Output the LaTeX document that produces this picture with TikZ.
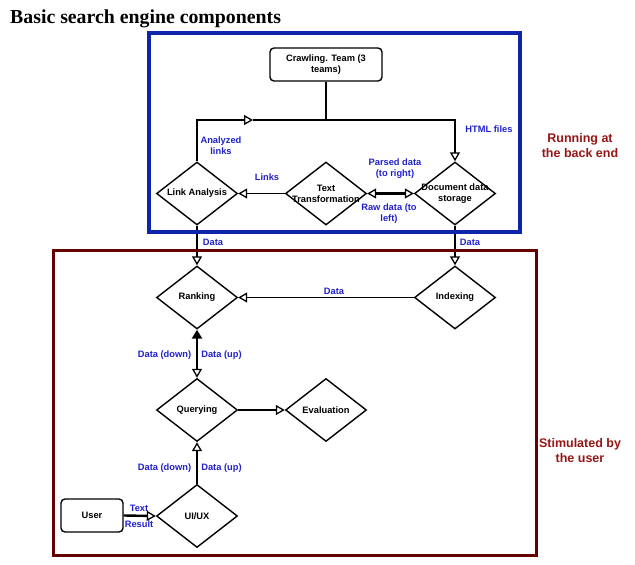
\documentclass[tikz,border=0pt]{standalone}
\usepackage{fontspec}
\setmainfont{Liberation Serif}
\newfontfamily\lsans{Liberation Sans}
\usetikzlibrary{shapes.geometric,arrows.meta}

\definecolor{frameblue}{RGB}{14,36,170}
\definecolor{framered}{RGB}{100,0,0}
\definecolor{lblblue}{RGB}{32,32,205}
\definecolor{notered}{RGB}{150,22,22}

\tikzset{
  dia/.style={diamond, draw, line width=1.4pt, minimum width=81pt, minimum height=63pt, inner sep=0pt},
  dtext/.style={font=\lsans\bfseries\fontsize{9.3}{11}\selectfont, align=center},
  rbox/.style={draw, line width=1.4pt, rounded corners=4pt, font=\lsans\bfseries\fontsize{9.3}{11}\selectfont, align=center, inner sep=0pt},
  conn/.style={line width=1.4pt},
  heavy/.style={line width=2.4pt},
  toarrow/.style={-{Triangle[open, length=9pt, width=10pt, line width=1.3pt]}},
  bothopen/.style={{Triangle[open, length=9pt, width=10pt, line width=1.3pt]}-{Triangle[open, length=9pt, width=10pt, line width=1.3pt]}},
  lbl/.style={text=lblblue, font=\lsans\bfseries\fontsize{9.3}{11}\selectfont, align=center, inner sep=0pt},
  note/.style={text=notered, font=\lsans\bfseries\fontsize{12.5}{15}\selectfont, align=center, inner sep=0pt},
}

\begin{document}
\begin{tikzpicture}[x=1pt,y=-1pt]
\useasboundingbox (0,0) rectangle (635,565);

% title
\node (title) [anchor=west, inner sep=0pt, font=\bfseries\fontsize{19.8}{22}\selectfont] at (10,18.5) {Basic search engine components};

% back-end components
\node (crawl) [rbox, minimum width=112pt, minimum height=33pt] at (326,64.5) {Crawling. Team (3\\teams)};
\node (la)  [dia, label={[dtext]center:Link Analysis}] at (197,193.5) {};
\node (tt)  [dia, label={[dtext]center:Text\\Transformation}] at (326,193.5) {};
\node (doc) [dia, label={[dtext]center:Document data\\storage}] at (455,193.5) {};

% user-facing components
\node (rank) [dia, label={[dtext]center:Ranking}] at (197,297.5) {};
\node (idx)  [dia, label={[dtext]center:Indexing}] at (455,297.5) {};
\node (qry)  [dia, label={[dtext]center:Querying}] at (197,410) {};
\node (eval) [dia, label={[dtext]center:Evaluation}] at (326,410) {};
\node (ui)   [dia, label={[dtext]center:UI/UX}] at (197,516) {};
\node (user) [rbox, minimum width=62pt, minimum height=33pt] at (92,515.5) {User};

% crawler feed
\coordinate (jc) at (326,120);
\coordinate (jl) at (253,120);
\draw[conn] (crawl.south) -- (jc);
\draw[conn] (jl) -- (jc);
\draw[conn, toarrow] (jc) -| (doc.north);
\draw[conn, toarrow] (la.north) |- (jl);

% back-end flows
\draw[conn, toarrow] (tt.west) -- (la.east);
\draw[heavy, bothopen] (tt.east) -- (doc.west);
\draw[conn, toarrow] (la.south) -- (rank.north);
\draw[conn, toarrow] (doc.south) -- (idx.north);
\draw[conn, toarrow] (idx.west) -- (rank.east);
\draw[heavy, {Triangle[length=9pt, width=10pt]}-{Triangle[open, length=9pt, width=10pt, line width=1.3pt]}] (rank.south) -- (qry.north);
\draw[conn, toarrow] (qry.east) -- (eval.west);
\draw[conn, toarrow] (ui.north) -- (qry.south);
\draw[heavy, toarrow] (user.east) -- (ui.west);

% connector labels
\node (lAn)   [lbl] at (221,146) {Analyzed\\links};
\node (lHtml) [lbl] at (489,129) {HTML files};
\node (lLnk)  [lbl] at (267,177) {Links};
\node (lPar)  [lbl] at (395,169) {Parsed data\\(to right)};
\node (lRaw)  [lbl] at (389,214) {Raw data (to\\left)};
\node (lD1)   [lbl] at (213,242) {Data};
\node (lD2)   [lbl] at (470,242) {Data};
\node (lD3)   [lbl] at (334,291) {Data};
\node (lDn1)  [lbl] at (164.5,355) {Data (down)};
\node (lUp1)  [lbl] at (221.5,355) {Data (up)};
\node (lDn2)  [lbl] at (164.5,468) {Data (down)};
\node (lUp2)  [lbl] at (221.5,468) {Data (up)};
\node (lTxt)  [lbl] at (139,508) {Text};
\node (lRes)  [lbl] at (139,524) {Result};

% region frames
\draw[frameblue, line width=3.5pt] (149,33) rectangle (520,232);
\draw[framered, line width=3pt] (53,250) rectangle (536,555);

\node (nBack) [note] at (580,145.5) {Running at\\the back end};
\node (nUser) [note] at (580,450.5) {Stimulated by\\the user};
\end{tikzpicture}
\end{document}
